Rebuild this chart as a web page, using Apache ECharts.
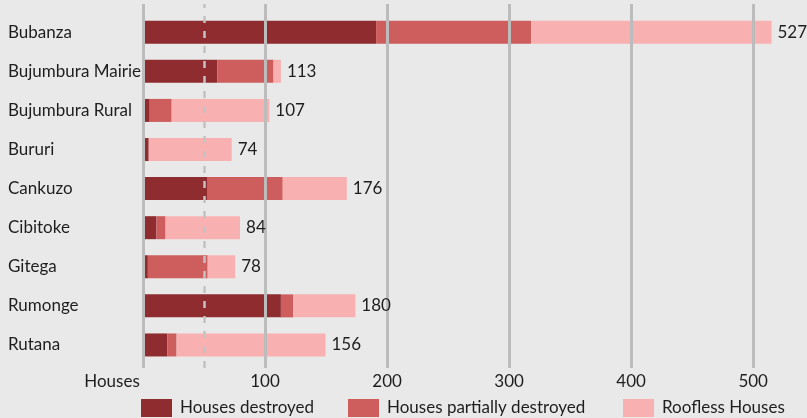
<!DOCTYPE html>
<html>
<head>
<meta charset="utf-8">
<script src="https://cdn.jsdelivr.net/npm/echarts@6/dist/echarts.min.js"></script>
<style>
  html, body { margin: 0; padding: 0; background: #e8e9e8; }
  #chart { width: 807px; height: 418px; }
</style>
</head>
<body>
<div id="chart"></div>
<script>
var provinces = ["Bubanza", "Bujumbura Mairie", "Bujumbura Rural", "Bururi", "Cankuzo", "Cibitoke", "Gitega", "Rumonge", "Rutana"];
var destroyed = [191, 61, 5.5, 4.7, 53, 11, 4, 113, 20];
var partial = [127, 46, 18, 0, 61.5, 7.5, 49, 10, 7.5];
var roofless = [197, 6, 80, 68, 52.5, 61, 22.5, 51, 122];
var totals = [527, 113, 107, 74, 176, 84, 78, 180, 156];
var gridValues = [0, 100, 200, 300, 400, 500];
var dashedValue = 50;

var font = "Lato";
var fontSize = 17;
var textColor = "#1e1e1e";
var lineColor = "#bcbcbc";

var chart = echarts.init(document.getElementById("chart"));

// gridlines go in their own grid so they reach a bit past the bars
var marks = gridValues.map(function (v) {
  return { xAxis: v, lineStyle: { color: lineColor, width: 3, type: "solid" } };
});
marks.push({ xAxis: dashedValue, lineStyle: { color: "#c2c2c2", width: 2.5, type: [7, 8] } });

function legendFor(name, left) {
  return {
    left: left,
    top: 399,
    padding: 0,
    icon: "rect",
    itemWidth: 31,
    itemHeight: 18,
    data: [name],
    textStyle: { fontFamily: font, fontSize: fontSize, color: textColor, padding: [0, 0, 0, 3] }
  };
}

var option = {
  backgroundColor: "#e8e9e8",
  animation: false,
  legend: [
    legendFor("Houses destroyed", 141),
    legendFor("Houses partially destroyed", 348),
    legendFor("Roofless Houses", 623)
  ],
  grid: [
    { left: 143, right: 5, top: 12.7, bottom: 53.5 },
    { left: 143, right: 5, top: 4, bottom: 50 }
  ],
  xAxis: [
    { gridIndex: 0, type: "value", min: 0, max: 540, show: false },
    {
      gridIndex: 1, type: "value", min: 0, max: 540, interval: 100,
      axisLine: { show: false }, axisTick: { show: false }, splitLine: { show: false },
      axisLabel: {
        margin: 5,
        showMaxLabel: false,
        fontFamily: font, fontSize: fontSize, color: textColor,
        formatter: function (v) {
          if (v === 0) return "{h|Houses}";
          if (v > 500) return "";
          return v;
        },
        rich: { h: { fontFamily: font, fontSize: fontSize, color: textColor, padding: [0, 62, 0, 0] } }
      }
    }
  ],
  yAxis: [
    {
      gridIndex: 0, type: "category", data: provinces, inverse: true,
      axisLine: { show: false }, axisTick: { show: false }, splitLine: { show: false },
      axisLabel: { align: "left", margin: 135, fontFamily: font, fontSize: fontSize, color: textColor }
    },
    { gridIndex: 1, type: "value", min: 0, max: 1, show: false }
  ],
  series: [
    {
      name: "Houses destroyed", type: "bar", stack: "h", barWidth: 23,
      xAxisIndex: 0, yAxisIndex: 0,
      itemStyle: { color: "#8e2c30" }, data: destroyed
    },
    {
      name: "Houses partially destroyed", type: "bar", stack: "h", barWidth: 23,
      xAxisIndex: 0, yAxisIndex: 0,
      itemStyle: { color: "#cd5e5d" }, data: partial
    },
    {
      name: "Roofless Houses", type: "bar", stack: "h", barWidth: 23,
      xAxisIndex: 0, yAxisIndex: 0,
      itemStyle: { color: "#f9b0b0" }, data: roofless
    },
    {
      // zero-length bar at the end of each stack, only carries the total label
      name: "totals", type: "bar", stack: "h", barWidth: 23,
      xAxisIndex: 0, yAxisIndex: 0, z: 10,
      itemStyle: { color: "transparent" },
      data: totals.map(function () { return 0; }),
      label: {
        show: true, position: "right", distance: 6,
        fontFamily: font, fontSize: fontSize, color: textColor,
        formatter: function (p) { return totals[p.dataIndex]; }
      }
    },
    {
      name: "gridlines", type: "line", xAxisIndex: 1, yAxisIndex: 1,
      data: [[0, 0]], showSymbol: false, symbol: "none", z: 5,
      lineStyle: { opacity: 0 },
      markLine: { silent: true, symbol: "none", label: { show: false }, z: 5, data: marks }
    }
  ]
};

chart.setOption(option);
</script>
</body>
</html>
